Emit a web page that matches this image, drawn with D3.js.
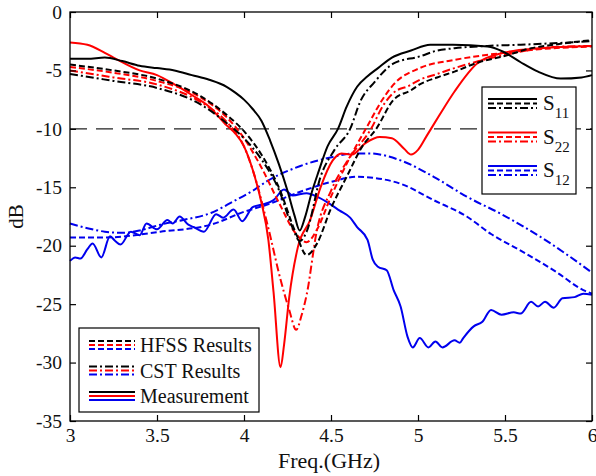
<!DOCTYPE html>
<html>
<head>
<meta charset="utf-8">
<script src="https://cdn.jsdelivr.net/npm/d3@7"></script>
<style>
  body { margin: 0; background: #fff; }
  svg text { font-family: "Liberation Serif", "DejaVu Serif", "Times New Roman", serif !important; fill: #111; }
</style>
</head>
<body>
<div id="chart"></div>
<script>
// tick values
const xTicks = [3, 3.5, 4, 4.5, 5, 5.5, 6];
const yTicks = [0, -5, -10, -15, -20, -25, -30, -35];
const refLevel = -10;

// S11 (black)
const s11Meas = [[3.0,-4.0],[3.1,-4.0],[3.2,-3.9],[3.3,-4.2],[3.4,-4.6],[3.5,-4.8],[3.6,-5.0],[3.7,-5.4],[3.8,-5.8],[3.9,-6.4],[3.95,-6.9],[4.0,-7.5],[4.05,-8.3],[4.1,-9.3],[4.15,-11.0],[4.2,-13.0],[4.25,-15.3],[4.29,-17.4],[4.32,-18.7],[4.35,-17.6],[4.39,-15.4],[4.43,-13.6],[4.48,-11.5],[4.54,-10.0],[4.59,-8.1],[4.65,-6.4],[4.71,-5.5],[4.77,-4.8],[4.85,-3.9],[4.96,-3.3],[5.07,-2.8],[5.2,-2.8],[5.4,-2.95],[5.49,-3.4],[5.59,-4.3],[5.69,-5.1],[5.82,-5.7],[5.94,-5.6],[6.0,-5.4]];
const s11Hfss = [[3.0,-4.5],[3.25,-5.0],[3.5,-5.7],[3.75,-7.2],[3.9,-8.8],[4.0,-10.2],[4.1,-12.2],[4.2,-15.0],[4.3,-19.0],[4.36,-20.8],[4.42,-19.8],[4.5,-16.8],[4.59,-14.1],[4.68,-11.5],[4.76,-10.0],[4.86,-7.5],[4.96,-6.7],[5.01,-6.2],[5.11,-5.6],[5.21,-5.1],[5.35,-4.3],[5.49,-3.8],[5.65,-3.1],[5.78,-2.8],[6.0,-2.4]];
const s11Cst = [[3.0,-5.3],[3.25,-5.9],[3.5,-6.5],[3.75,-7.9],[3.9,-9.5],[4.0,-10.8],[4.1,-12.6],[4.2,-15.2],[4.28,-18.5],[4.32,-19.6],[4.36,-18.8],[4.44,-14.1],[4.52,-11.8],[4.61,-10.0],[4.67,-7.6],[4.75,-6.0],[4.86,-4.4],[5.01,-3.8],[5.11,-3.3],[5.21,-3.1],[5.4,-2.9],[5.59,-2.8],[6.0,-2.5]];

// S22 (red)
const s22Meas = [[3.0,-2.6],[3.1,-2.8],[3.2,-3.5],[3.25,-3.9],[3.4,-5.0],[3.5,-5.4],[3.6,-6.2],[3.7,-7.1],[3.8,-8.1],[3.9,-9.7],[3.95,-10.4],[4.0,-11.5],[4.05,-13.5],[4.1,-16.3],[4.14,-19.5],[4.17,-24.0],[4.21,-30.4],[4.23,-28.5],[4.26,-24.4],[4.31,-20.1],[4.38,-17.8],[4.44,-15.0],[4.51,-12.7],[4.56,-12.1],[4.62,-12.2],[4.7,-11.2],[4.78,-10.7],[4.85,-10.8],[4.92,-11.7],[4.96,-12.2],[5.0,-11.8],[5.05,-10.6],[5.12,-8.9],[5.21,-6.8],[5.34,-4.4],[5.49,-3.5],[5.7,-3.1],[6.0,-2.9]];
const s22Hfss = [[3.0,-4.7],[3.25,-5.2],[3.5,-5.9],[3.75,-7.3],[3.9,-9.0],[4.0,-10.8],[4.1,-13.3],[4.2,-16.3],[4.3,-19.0],[4.36,-19.7],[4.42,-18.6],[4.5,-15.8],[4.6,-12.7],[4.7,-10.0],[4.8,-7.4],[4.86,-6.2],[5.01,-4.8],[5.21,-4.1],[5.49,-3.5],[5.78,-3.1],[6.0,-2.95]];
const s22Cst = [[3.0,-5.0],[3.25,-5.6],[3.5,-6.2],[3.75,-7.7],[3.9,-9.4],[4.0,-11.5],[4.05,-13.5],[4.14,-18.5],[4.21,-22.9],[4.26,-25.5],[4.3,-27.2],[4.33,-26.0],[4.36,-24.2],[4.42,-18.6],[4.5,-15.3],[4.6,-12.6],[4.73,-10.0],[4.8,-8.0],[4.86,-6.9],[4.95,-6.3],[5.01,-5.8],[5.11,-5.3],[5.21,-4.8],[5.35,-4.2],[5.49,-3.7],[5.78,-3.0],[6.0,-2.9]];

// S12 (blue)
const s12Meas = [[3.0,-21.3],[3.03,-21.0],[3.06,-21.1],[3.1,-20.3],[3.13,-19.8],[3.18,-21.0],[3.23,-19.2],[3.26,-19.6],[3.29,-19.9],[3.35,-18.8],[3.4,-19.1],[3.44,-18.1],[3.5,-18.6],[3.56,-17.8],[3.59,-18.1],[3.63,-17.5],[3.68,-18.2],[3.71,-18.4],[3.77,-18.8],[3.84,-17.3],[3.88,-17.6],[3.94,-16.9],[3.99,-17.9],[4.05,-16.7],[4.1,-16.5],[4.17,-16.1],[4.23,-15.2],[4.28,-15.7],[4.36,-15.5],[4.42,-15.8],[4.48,-16.3],[4.55,-17.0],[4.61,-17.6],[4.65,-18.4],[4.71,-19.5],[4.74,-21.2],[4.77,-21.8],[4.82,-22.1],[4.86,-23.8],[4.9,-25.2],[4.94,-27.8],[4.97,-28.7],[5.01,-27.9],[5.06,-28.7],[5.1,-28.2],[5.14,-28.7],[5.21,-28.1],[5.24,-28.3],[5.26,-27.9],[5.32,-26.9],[5.37,-26.5],[5.42,-25.5],[5.48,-25.9],[5.55,-25.7],[5.59,-25.8],[5.65,-24.8],[5.69,-25.2],[5.73,-24.8],[5.78,-25.3],[5.83,-24.5],[5.9,-24.4],[5.95,-24.1],[6.0,-24.2]];
const s12Hfss = [[3.0,-19.3],[3.2,-19.3],[3.52,-18.8],[3.81,-18.2],[4.0,-17.1],[4.13,-16.5],[4.32,-15.4],[4.51,-14.5],[4.65,-14.1],[4.75,-14.2],[4.9,-14.7],[5.09,-16.1],[5.28,-17.5],[5.42,-19.0],[5.6,-20.5],[5.8,-22.3],[5.95,-23.8],[6.0,-24.1]];
const s12Cst = [[3.0,-18.1],[3.1,-18.5],[3.2,-18.8],[3.3,-18.9],[3.4,-18.7],[3.52,-18.2],[3.65,-17.8],[3.81,-17.2],[3.94,-16.2],[4.05,-15.3],[4.13,-14.5],[4.32,-13.2],[4.51,-12.4],[4.63,-12.1],[4.72,-12.1],[4.9,-12.7],[5.09,-14.1],[5.28,-15.8],[5.48,-17.3],[5.71,-19.3],[5.85,-20.7],[6.0,-22.3]];

const black = "#000", red = "#ff0000", blue = "#0000ee";
const dashed = "6,3", dashDot = "8,3,2,3";
const serif = '"Liberation Serif", "DejaVu Serif", "Times New Roman", serif';

const margin = { top: 12, right: 4, bottom: 55, left: 70 };
const width = 596 - margin.left - margin.right;
const height = 476 - margin.top - margin.bottom;

const x = d3.scaleLinear().domain([3, 6]).range([0, width]);
const y = d3.scaleLinear().domain([-35, 0]).range([height, 0]);

const svg = d3.select("#chart")
  .append("svg")
    .attr("width", 596)
    .attr("height", 476)
    .attr("font-family", serif)
  .append("g")
    .attr("transform", `translate(${margin.left},${margin.top})`);

// -10 dB reference line
svg.append("line")
  .attr("x1", 0).attr("x2", width)
  .attr("y1", y(refLevel)).attr("y2", y(refLevel))
  .attr("stroke", "#222").attr("stroke-width", 1.2)
  .attr("stroke-dasharray", "17,9");

// curves
const line = d3.line()
  .x(d => x(d[0]))
  .y(d => y(d[1]))
  .curve(d3.curveMonotoneX);

const series = [
  { data: s12Hfss, color: blue, dash: dashed },
  { data: s12Cst, color: blue, dash: dashDot },
  { data: s12Meas, color: blue, dash: null },
  { data: s22Hfss, color: red, dash: dashed },
  { data: s22Cst, color: red, dash: dashDot },
  { data: s22Meas, color: red, dash: null },
  { data: s11Hfss, color: black, dash: dashed },
  { data: s11Cst, color: black, dash: dashDot },
  { data: s11Meas, color: black, dash: null }
];

series.forEach(s => {
  svg.append("path")
    .datum(s.data)
    .attr("fill", "none")
    .attr("stroke", s.color)
    .attr("stroke-width", 2)
    .attr("stroke-dasharray", s.dash)
    .attr("d", line);
});

// axes (ticks pointing inward, mirrored on top/right)
const fmt = d => String(d);
svg.append("g")
  .attr("transform", `translate(0,${height})`)
  .call(d3.axisBottom(x).tickValues(xTicks).tickFormat(fmt).tickSizeInner(-6).tickSizeOuter(0).tickPadding(7));
svg.append("g")
  .call(d3.axisLeft(y).tickValues(yTicks).tickFormat(fmt).tickSizeInner(-6).tickSizeOuter(0).tickPadding(8));
svg.append("g")
  .call(d3.axisTop(x).tickValues(xTicks).tickFormat("").tickSizeInner(-6).tickSizeOuter(0));
svg.append("g")
  .attr("transform", `translate(${width},0)`)
  .call(d3.axisRight(y).tickValues(yTicks).tickFormat("").tickSizeInner(-6).tickSizeOuter(0));

svg.selectAll(".domain").remove();
svg.selectAll("g").attr("font-family", serif);
svg.selectAll(".tick line").attr("stroke", "#000").attr("stroke-width", 1.2);
svg.selectAll(".tick text")
  .attr("font-family", serif)
  .attr("font-size", 19.5)
  .attr("fill", "#111");

svg.append("rect")
  .attr("width", width).attr("height", height)
  .attr("fill", "none").attr("stroke", "#000").attr("stroke-width", 1.3);

// axis titles
svg.append("text")
  .attr("x", x(4.5) - 2).attr("y", height + 47)
  .attr("text-anchor", "middle")
  .attr("font-size", 22)
  .text("Freq.(GHz)");
svg.append("text")
  .attr("transform", `translate(${-47},${y(-17.5)}) rotate(-90)`)
  .attr("text-anchor", "middle")
  .attr("font-size", 21)
  .text("dB");

// legend: parameters
const paramLegend = [
  { name: "11", color: black },
  { name: "22", color: red },
  { name: "12", color: blue }
];
const lg1 = svg.append("g").attr("transform", "translate(412,75)");
lg1.append("rect").attr("width", 94).attr("height", 107)
  .attr("fill", "#fff").attr("stroke", "#000").attr("stroke-width", 1.2);
paramLegend.forEach((p, i) => {
  const gy = 12 + i * 33.5;
  [null, dashed, dashDot].forEach((dash, j) => {
    lg1.append("line")
      .attr("x1", 6).attr("x2", 55)
      .attr("y1", gy + j * 4.5).attr("y2", gy + j * 4.5)
      .attr("stroke", p.color).attr("stroke-width", 2)
      .attr("stroke-dasharray", dash);
  });
  const t = lg1.append("text").attr("x", 61).attr("y", gy + 11).attr("font-size", 21);
  t.append("tspan").text("S");
  t.append("tspan").attr("dy", 8).attr("font-size", 15).text(p.name);
});

// legend: methods
const methodLegend = [
  { name: "HFSS Results", dash: dashed },
  { name: "CST Results", dash: dashDot },
  { name: "Measurement", dash: null }
];
const lg2 = svg.append("g").attr("transform", "translate(9,316)");
lg2.append("rect").attr("width", 180).attr("height", 84)
  .attr("fill", "#fff").attr("stroke", "#000").attr("stroke-width", 1.2);
methodLegend.forEach((m, i) => {
  const gy = 13 + i * 25.5;
  [black, red, blue].forEach((c, j) => {
    lg2.append("line")
      .attr("x1", 10).attr("x2", 56)
      .attr("y1", gy + j * 4).attr("y2", gy + j * 4)
      .attr("stroke", c).attr("stroke-width", 2)
      .attr("stroke-dasharray", m.dash);
  });
  lg2.append("text").attr("x", 61).attr("y", gy + 11)
    .attr("font-size", 20).text(m.name);
});
</script>
</body>
</html>
